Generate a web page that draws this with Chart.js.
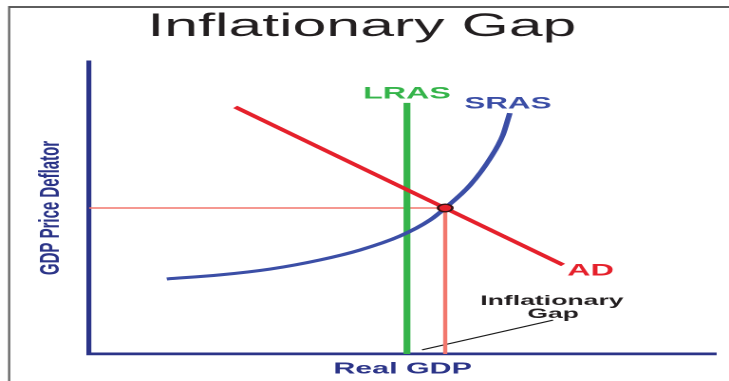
<!DOCTYPE html>
<html>
<head>
<meta charset="utf-8">
<title>Inflationary Gap</title>
<script src="https://cdn.jsdelivr.net/npm/chart.js@4.4.1/dist/chart.umd.min.js"></script>
<style>
  html, body { margin: 0; padding: 0; background: #ffffff; overflow: hidden; }
  /* the diagram is laid out on a narrow board and widened to the page */
  #board {
    width: 384px;
    height: 381px;
    transform: scaleX(1.8984);
    transform-origin: 0 0;
  }
</style>
</head>
<body>
<div id="board"><canvas id="gap"></canvas></div>
<script>
// ---- text ----
const titleText = 'Inflationary Gap';
const xTitle = 'Real GDP';
const yTitle = 'GDP Price Deflator';
const curveNames = ['LRAS', 'SRAS', 'AD'];
const gapLabel = ['Inflationary', 'Gap'];

// ---- curves (output index 0-100, price index 0-100) ----
const lrasX = [50.7, 50.7];
const lrasY = [0, 86.0];

const srasX = [12.4, 20.9, 28.9, 36.8, 43.2, 49.6, 54.4, 56.8, 60.8, 64.0, 66.0, 67.1];
const srasY = [25.7, 27.1, 29.1, 32.2, 35.6, 40.4, 45.9, 50.0, 57.9, 67.1, 75.0, 82.5];

const adX = [23.3, 75.6];
const adY = [84.6, 30.5];

// short-run equilibrium where AD meets SRAS
const eqX = [56.8];
const eqY = [50.0];

// pointer from the gap caption down to the axis between LRAS and equilibrium
const pointerX = [53.1, 74.0];
const pointerY = [1.4, 11.6];

// ---- colours ----
const navy = '#2b3488';
const green = '#35b44a';
const blue = '#3b4ea6';
const red = '#e5202b';
const salmon = '#f2776d';
const ink = '#231f20';
const FONT = "'Liberation Sans', Arial, Helvetica, sans-serif";

const pts = (xs, ys) => xs.map((x, i) => ({ x: x, y: ys[i] }));

const data = {
  datasets: [
    {
      label: 'Equilibrium',
      data: pts(eqX, eqY),
      showLine: false,
      pointRadius: 3.8,
      pointBackgroundColor: red,
      pointBorderColor: '#3a1212',
      pointBorderWidth: 1.4
    },
    {
      label: curveNames[2],
      data: pts(adX, adY),
      borderColor: red,
      borderWidth: 3.2,
      pointRadius: 0
    },
    {
      label: curveNames[1],
      data: pts(srasX, srasY),
      borderColor: blue,
      borderWidth: 3.0,
      cubicInterpolationMode: 'monotone',
      pointRadius: 0
    },
    {
      label: curveNames[0],
      data: pts(lrasX, lrasY),
      borderColor: green,
      borderWidth: 3.6,
      pointRadius: 0
    },
    {
      label: 'Price guide',
      data: [{ x: 0, y: eqY[0] }, { x: eqX[0], y: eqY[0] }],
      borderColor: salmon,
      borderWidth: 1.6,
      pointRadius: 0
    },
    {
      label: 'Output guide',
      data: [{ x: eqX[0], y: eqY[0] }, { x: eqX[0], y: 0 }],
      borderColor: salmon,
      borderWidth: 2.2,
      pointRadius: 0
    },
    {
      label: 'Gap pointer',
      data: pts(pointerX, pointerY),
      borderColor: '#1a1a1a',
      borderWidth: 1.1,
      pointRadius: 0
    }
  ]
};

// white page with the thin grey frame on the top and left edges
const framePlugin = {
  id: 'frame',
  beforeDraw(chart) {
    const ctx = chart.ctx;
    ctx.save();
    ctx.fillStyle = '#ffffff';
    ctx.fillRect(0, 0, chart.width, chart.height);
    ctx.strokeStyle = '#5e5e5e';
    ctx.lineWidth = 2;
    ctx.beginPath();
    ctx.moveTo(chart.width, 7);
    ctx.lineTo(4.8, 7);
    ctx.stroke();
    ctx.lineWidth = 1.1;
    ctx.beginPath();
    ctx.moveTo(4.8, 6);
    ctx.lineTo(4.8, chart.height);
    ctx.stroke();
    ctx.restore();
  }
};

// curve names and the gap caption, placed from the curve data
const labelPlugin = {
  id: 'curveLabels',
  afterDatasetsDraw(chart) {
    const ctx = chart.ctx;
    const xs = chart.scales.x, ys = chart.scales.y;
    const px = v => xs.getPixelForValue(v);
    const py = v => ys.getPixelForValue(v);
    ctx.save();
    ctx.textBaseline = 'middle';

    ctx.font = 'bold 17px ' + FONT;
    ctx.fillStyle = green;
    ctx.textAlign = 'center';
    ctx.fillText(curveNames[0], px(lrasX[1]), py(lrasY[1]) - 9);

    ctx.font = 'bold 16.5px ' + FONT;
    ctx.fillStyle = blue;
    ctx.fillText(curveNames[1], px(srasX[srasX.length - 1]) - 1, py(srasY[srasY.length - 1]) - 9);

    ctx.font = 'bold 17px ' + FONT;
    ctx.fillStyle = red;
    ctx.textAlign = 'left';
    ctx.fillText(curveNames[2], px(adX[1]) + 2.2, py(adY[1]) + 6);

    ctx.font = 'bold 14px ' + FONT;
    ctx.fillStyle = ink;
    ctx.textAlign = 'center';
    const gx = px(pointerX[1]);
    const gy = py(pointerY[1]);
    ctx.fillText(gapLabel[0], gx - 0.6, gy - 19);
    ctx.fillText(gapLabel[1], gx, gy - 6);
    ctx.restore();
  }
};

new Chart(document.getElementById('gap'), {
  type: 'line',
  data: data,
  plugins: [framePlugin, labelPlugin],
  options: {
    responsive: true,
    maintainAspectRatio: false,
    devicePixelRatio: 2,
    animation: false,
    layout: { padding: { left: 4, right: 6.8, top: 0, bottom: 0 } },
    plugins: {
      legend: { display: false },
      tooltip: { enabled: false },
      title: {
        display: true,
        text: titleText,
        color: ink,
        font: { family: FONT, size: 32, weight: 'normal', lineHeight: 1.2 },
        padding: { top: 7.8, bottom: 15.8 }
      }
    },
    scales: {
      x: {
        type: 'linear',
        min: 0,
        max: 100,
        grid: { display: false, drawTicks: false },
        border: { display: true, color: navy, width: 2.8 },
        ticks: { display: false },
        title: {
          display: true,
          text: xTitle,
          color: navy,
          font: { family: FONT, size: 16, weight: 'bold', lineHeight: 1.2 },
          padding: { top: 5.4, bottom: 2.4 }
        }
      },
      y: {
        type: 'linear',
        min: 0,
        max: 100,
        grid: { display: false, drawTicks: false },
        border: { display: true, color: navy, width: 2.6 },
        ticks: { display: false },
        title: {
          display: true,
          text: yTitle,
          color: navy,
          font: { family: FONT, size: 15, weight: 'bold', lineHeight: 1.2 },
          padding: { top: 13.9, bottom: 11 }
        }
      }
    }
  }
});
</script>
</body>
</html>
